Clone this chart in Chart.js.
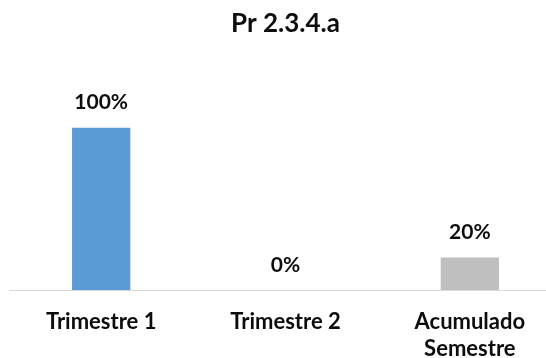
<!DOCTYPE html>
<html>
<head>
<meta charset="utf-8">
<script src="https://cdn.jsdelivr.net/npm/chart.js@4.4.1/dist/chart.umd.min.js"></script>
<style>
  html, body { margin: 0; padding: 0; background: #fff; overflow: hidden; }
  /* canvas is a bit larger than the window so the plot runs off the right edge */
  #wrap { width: 546px; height: 358px; overflow: hidden; }
</style>
</head>
<body>
<div id="wrap">
  <canvas id="chart" width="562" height="381"></canvas>
</div>
<script>
const categories = [['Trimestre 1'], ['Trimestre 2'], ['Acumulado', 'Semestre']];
const values = [100, 0, 20];
const barColors = ['#5B9BD5', '#5B9BD5', '#BFBFBF'];
const titleText = 'Pr 2.3.4.a';

const FONT = 'Lato';
const TEXT = '#0D0D0D';

// writes "NN%" above each bar, centred on it
const valueLabels = {
  id: 'valueLabels',
  afterDatasetsDraw(chart) {
    const ctx = chart.ctx;
    const meta = chart.getDatasetMeta(0);
    ctx.save();
    ctx.font = 'bold 21px ' + FONT;
    ctx.fillStyle = TEXT;
    ctx.textAlign = 'center';
    ctx.textBaseline = 'middle';
    meta.data.forEach((bar, i) => {
      ctx.fillText(values[i] + '%', bar.x, bar.y - 25);
    });
    ctx.restore();
  }
};

new Chart(document.getElementById('chart'), {
  type: 'bar',
  data: {
    labels: categories,
    datasets: [{
      data: values,
      backgroundColor: barColors,
      borderWidth: 0,
      categoryPercentage: 1,
      barPercentage: 0.316
    }]
  },
  options: {
    responsive: false,
    animation: false,
    layout: { padding: { left: 9, right: 0, top: 0, bottom: 0 } },
    scales: {
      x: {
        grid: { display: false, drawTicks: false },
        border: { display: true, color: '#D9D9D9', width: 1 },
        ticks: {
          color: TEXT,
          padding: 18,
          font: { family: FONT, size: 22, weight: 'bold', lineHeight: 1.25 }
        }
      },
      y: {
        display: false,
        min: 0,
        max: 120
      }
    },
    plugins: {
      legend: { display: false },
      tooltip: { enabled: false },
      title: {
        display: true,
        text: titleText,
        color: TEXT,
        font: { family: FONT, size: 26, weight: 'bold', lineHeight: 1.2 },
        padding: { top: 8, bottom: 56 }
      }
    }
  },
  plugins: [valueLabels]
});
</script>
</body>
</html>
